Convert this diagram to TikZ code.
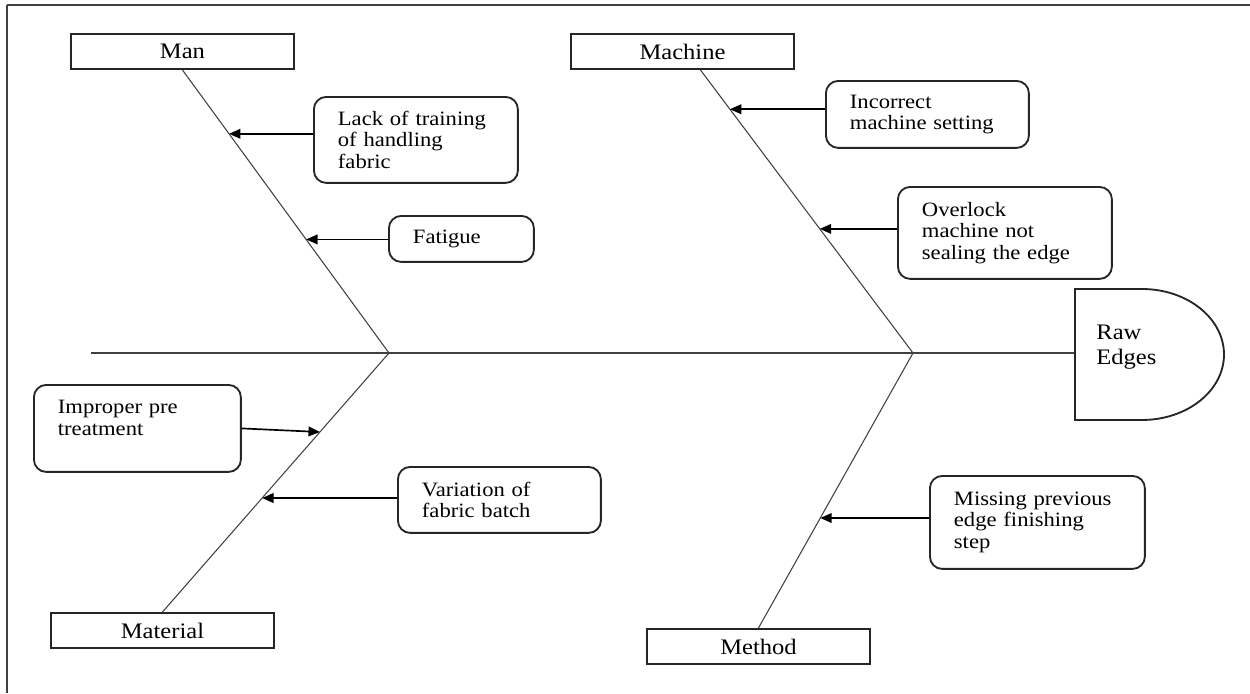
\documentclass[tikz,border=0pt]{standalone}
\usepackage{fontspec}
\setmainfont[FakeStretch=1.11]{Liberation Serif}
\usetikzlibrary{arrows.meta,calc}

\begin{document}
\begin{tikzpicture}[x=0.02cm,y=-0.02cm,
  catbox/.style={draw=black!85, line width=1.15pt, anchor=north west, inner sep=0pt,
    minimum width=4.46cm, minimum height=0.7cm,
    font=\fontsize{12.6}{14.2}\selectfont, text=black},
  causebox/.style={draw=black!85, line width=1.05pt, rounded corners=7pt, anchor=north west,
    inner xsep=0.48cm, inner ysep=0pt, align=left,
    font=\fontsize{11.6}{12.1}\selectfont, text=black},
  bone/.style={draw=black!75, line width=0.6pt},
  causearrow/.style={draw=black, line width=0.95pt, -{Triangle[length=6.5pt,width=5.5pt]}},
  frameline/.style={draw=black!75},
]
\useasboundingbox (0,0) rectangle (1250,693);

% page frame (top and left rules)
\draw[frameline, line width=1.1pt] (7,5) -- (1250,5);
\draw[frameline, line width=0.85pt] (7,5) -- (7,693);

% category boxes
\node[catbox] (man)      at (70,33)   {Man};
\node[catbox] (machine)  at (570,33)  {Machine};
\node[catbox] (material) at (50,612)  {Material};
\node[catbox] (method)   at (646,628) {Method};

% cause boxes
\node[causebox, text width=3.12cm, minimum height=1.72cm] (lack) at (313,96)
  {Lack of training\\of handling\\fabric};
\node[causebox, text width=1.94cm, minimum height=0.92cm] (fatigue) at (388,215)
  {Fatigue};
\node[causebox, text width=3.10cm, minimum height=1.34cm] (incorrect) at (825,80)
  {Incorrect\\machine setting};
\node[causebox, text width=3.32cm, minimum height=1.84cm] (overlock) at (897,186)
  {Overlock\\machine not\\sealing the edge};
\node[causebox, text width=3.18cm, minimum height=1.74cm] (improper) at (33,384)
  {Improper pre\\treatment\\\mbox{}};
\node[causebox, text width=3.10cm, minimum height=1.32cm] (variation) at (397,466)
  {Variation of\\fabric batch};
\node[causebox, text width=3.34cm, minimum height=1.86cm] (missing) at (929,475)
  {Missing previous\\edge finishing\\step};

% spine
\coordinate (tail) at (91,353);
\coordinate (j1) at (389,353);
\coordinate (j2) at (913,353);
\coordinate (head) at (1075,353);
\draw[bone] (tail) -- (j1) -- (j2) -- (head);

% effect head
\draw[draw=black!85, line width=1.05pt] (1075,289) -- (1142,289)
  arc[start angle=90, end angle=-90, x radius=1.64cm, y radius=1.31cm]
  -- (1075,420) -- cycle;
\node[anchor=west, inner sep=0pt, align=left, font=\fontsize{12.6}{14.2}\selectfont,
  text=black] (raw) at (1096,347.5) {Raw\\Edges};

% bones with the points where the cause arrows land
\draw[bone] (man.south) -- coordinate[pos=0.2254] (lacktip)
  coordinate[pos=0.5986] (fatiguetip) (j1);
\draw[bone] ($(machine.south)+(18,0)$) -- coordinate[pos=0.1386] (incorrecttip)
  coordinate[pos=0.5614] (overlocktip) (j2);
\draw[bone] (j1) -- coordinate[pos=0.305] (impropertip)
  coordinate[pos=0.56] (variationtip) (material.north);
\draw[bone] (j2) -- coordinate[pos=0.6] (missingtip) (method.north);

% cause arrows
\draw[causearrow] (lack.west |- lacktip) -- (lacktip);
\draw[causearrow] (fatigue.west |- fatiguetip) -- (fatiguetip);
\draw[causearrow] (incorrect.west |- incorrecttip) -- (incorrecttip);
\draw[causearrow] (overlock.west |- overlocktip) -- (overlocktip);
\draw[causearrow] (improper.east) -- (impropertip);
\draw[causearrow] (variation.west |- variationtip) -- (variationtip);
\draw[causearrow] (missing.west |- missingtip) -- (missingtip);
\end{tikzpicture}
\end{document}
